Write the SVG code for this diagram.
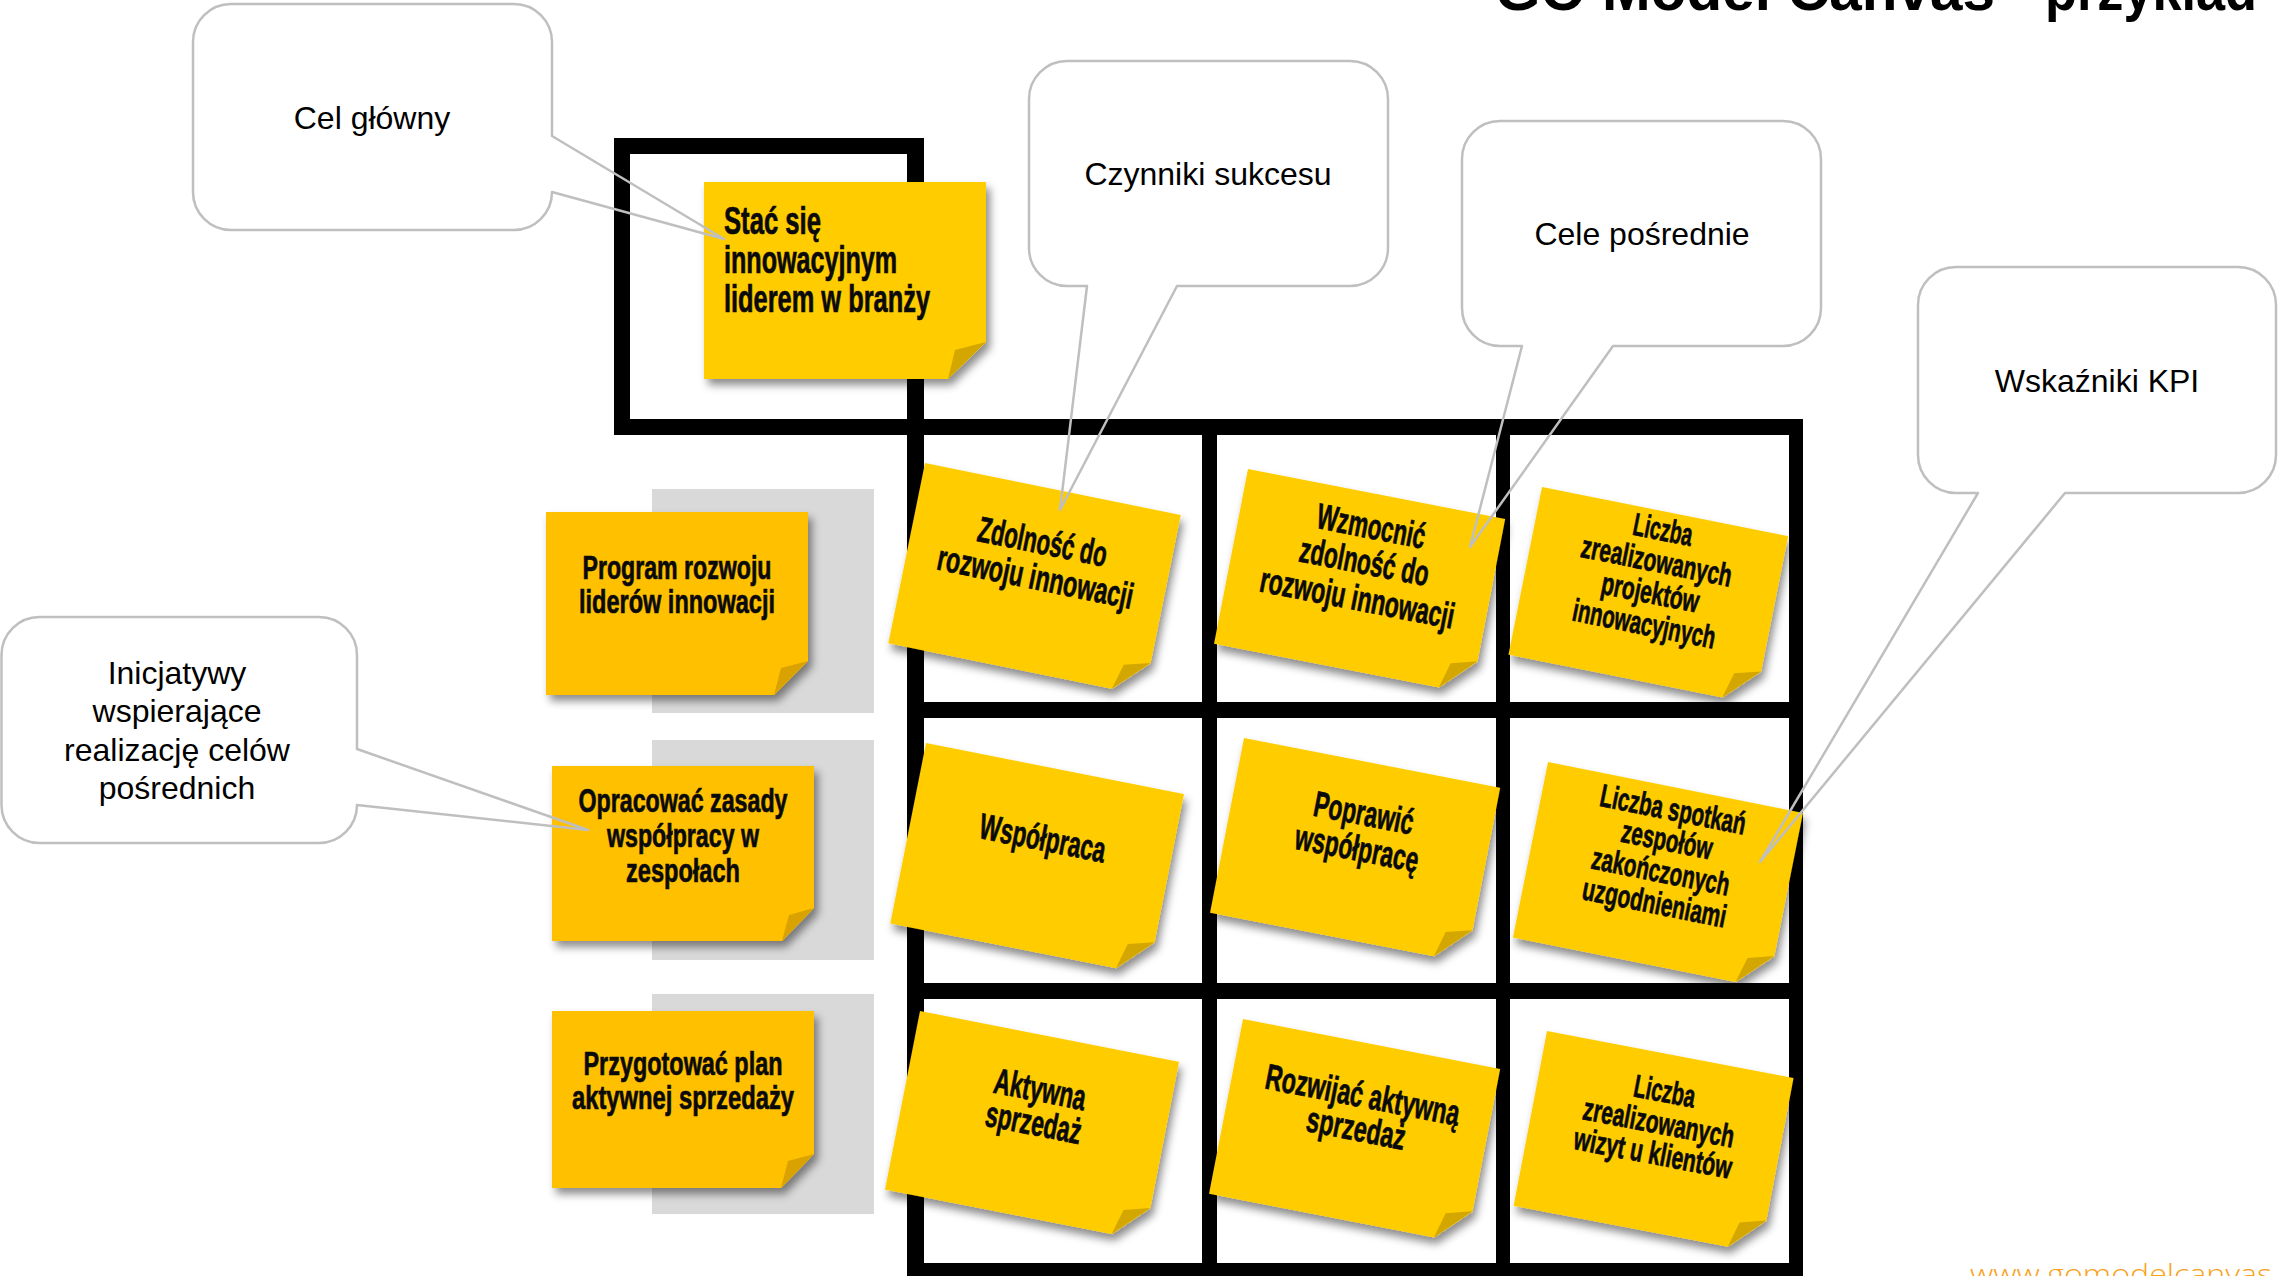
<svg xmlns="http://www.w3.org/2000/svg" width="2279" height="1276" viewBox="0 0 2279 1276">
<defs>
<filter id="sh" x="-10%" y="-10%" width="130%" height="135%">
<feDropShadow dx="4" dy="6" stdDeviation="4" flood-color="#000" flood-opacity="0.45"/>
</filter>
<style>
.grid rect{fill:#000}
.gray{fill:#D9D9D9}
.note{fill:#FFCC00}
.lnote{fill:#FFC000}
.fold{fill:#D4A600}
.lfold{fill:#D9A200}
.nt{font-family:"Liberation Sans",Arial,sans-serif;font-weight:bold;fill:#0a0a0a;stroke:#0a0a0a;stroke-width:0.7;text-anchor:middle}
.s35{font-size:36px}
.s31{font-size:32px}
.s34{font-size:34px}
.bbody{fill:#fff;stroke:none}
.bline{fill:none;stroke:#BFBFBF;stroke-width:2.5;stroke-linejoin:round}
.bt{font-family:"Liberation Sans",Arial,sans-serif;font-size:32px;fill:#000;text-anchor:middle}
</style>
</defs>
<rect width="2279" height="1276" fill="#fff"/>

<g id="title">
<text x="1495" y="10" font-family="'Liberation Sans',Arial,sans-serif" font-weight="bold" font-size="60" textLength="500" lengthAdjust="spacingAndGlyphs">GO Model Canvas</text>
<text x="2012" y="8" font-family="'Liberation Sans',Arial,sans-serif" font-weight="bold" font-size="60">–</text>
<text x="2045" y="10" font-family="'Liberation Sans',Arial,sans-serif" font-weight="bold" font-size="60" textLength="212" lengthAdjust="spacingAndGlyphs">przykład</text>
</g>

<g id="footer">
<text x="1970" y="1284" font-family="'Open Sans','Liberation Sans',sans-serif" font-weight="300" font-size="28" fill="#F9A21B" textLength="302" lengthAdjust="spacingAndGlyphs">www.gomodelcanvas</text>
</g>

<g id="grid" class="grid">
<rect x="614" y="138" width="16" height="297"/>
<rect x="614" y="138" width="310" height="16"/>
<rect x="907" y="138" width="17" height="1138"/>
<rect x="614" y="419" width="1189" height="16"/>
<rect x="1202" y="419" width="15" height="857"/>
<rect x="1496" y="419" width="14" height="857"/>
<rect x="1789" y="419" width="14" height="857"/>
<rect x="907" y="702" width="896" height="16"/>
<rect x="907" y="983" width="896" height="16"/>
<rect x="907" y="1263" width="896" height="16"/>
</g>

<g id="gray-panels">
<rect class="gray" x="652" y="489" width="222" height="224"/>
<rect class="gray" x="652" y="740" width="222" height="220"/>
<rect class="gray" x="652" y="994" width="222" height="220"/>
</g>

<g id="note-main" transform="translate(704,182)">
<path class="note" filter="url(#sh)" d="M0,0H282V160L244,197H0Z"/>
<path class="fold" d="M244,197L251,168L282,160Z"/>
<text class="nt" x="20" y="52" font-size="38" style="text-anchor:start" textLength="97" lengthAdjust="spacingAndGlyphs">Stać się</text>
<text class="nt" x="20" y="91" font-size="38" style="text-anchor:start" textLength="173" lengthAdjust="spacingAndGlyphs">innowacyjnym</text>
<text class="nt" x="20" y="130" font-size="38" style="text-anchor:start" textLength="206" lengthAdjust="spacingAndGlyphs">liderem w branży</text>
</g>

<g id="note-a" transform="translate(546,512)">
<path class="lnote" filter="url(#sh)" d="M0,0H262V149L228,183H0Z"/>
<path class="lfold" d="M228,183L235,156L262,149Z"/>
<text class="nt s34" x="131" y="67" textLength="189" lengthAdjust="spacingAndGlyphs">Program rozwoju</text>
<text class="nt s34" x="131" y="101" textLength="196" lengthAdjust="spacingAndGlyphs">liderów innowacji</text>
</g>

<g id="note-b" transform="translate(552,766)">
<path class="lnote" filter="url(#sh)" d="M0,0H262V142L230,175H0Z"/>
<path class="lfold" d="M230,175L237,149L262,142Z"/>
<text class="nt s34" x="131" y="46" textLength="209" lengthAdjust="spacingAndGlyphs">Opracować zasady</text>
<text class="nt s34" x="131" y="81" textLength="152" lengthAdjust="spacingAndGlyphs">współpracy w</text>
<text class="nt s34" x="131" y="116" textLength="114" lengthAdjust="spacingAndGlyphs">zespołach</text>
</g>

<g id="note-c" transform="translate(552,1011)">
<path class="lnote" filter="url(#sh)" d="M0,0H262V143L229,177H0Z"/>
<path class="lfold" d="M229,177L236,150L262,143Z"/>
<text class="nt s34" x="131" y="64" textLength="199" lengthAdjust="spacingAndGlyphs">Przygotować plan</text>
<text class="nt s34" x="131" y="98" textLength="222" lengthAdjust="spacingAndGlyphs">aktywnej sprzedaży</text>
</g>

<g id="note-1" transform="translate(925,463) rotate(11.5)">
<path class="note" filter="url(#sh)" d="M0,0H261V151L228,184H0Z"/>
<path class="fold" d="M228,184L235,158L261,151Z"/>
<text class="nt s35" x="131" y="66" textLength="131" lengthAdjust="spacingAndGlyphs">Zdolność do</text>
<text class="nt s35" x="131" y="102" textLength="199" lengthAdjust="spacingAndGlyphs">rozwoju innowacji</text>
</g>

<g id="note-2" transform="translate(1248,469) rotate(11)">
<path class="note" filter="url(#sh)" d="M0,0H262V145L229,178H0Z"/>
<path class="fold" d="M229,178L236,152L262,145Z"/>
<text class="nt s35" x="132" y="45" textLength="110" lengthAdjust="spacingAndGlyphs">Wzmocnić</text>
<text class="nt s35" x="132" y="81" textLength="131" lengthAdjust="spacingAndGlyphs">zdolność do</text>
<text class="nt s35" x="132" y="118" textLength="197" lengthAdjust="spacingAndGlyphs">rozwoju innowacji</text>
</g>

<g id="note-3" transform="translate(1542,487) rotate(11.3)">
<path class="note" filter="url(#sh)" d="M0,0H251V138L218,171H0Z"/>
<path class="fold" d="M218,171L225,145L251,138Z"/>
<text class="nt s31" x="127" y="29" textLength="60" lengthAdjust="spacingAndGlyphs">Liczba</text>
<text class="nt s31" x="127" y="61" textLength="153" lengthAdjust="spacingAndGlyphs">zrealizowanych</text>
<text class="nt s31" x="127" y="93" textLength="99" lengthAdjust="spacingAndGlyphs">projektów</text>
<text class="nt s31" x="127" y="125" textLength="145" lengthAdjust="spacingAndGlyphs">innowacyjnych</text>
</g>

<g id="note-4" transform="translate(926,743) rotate(11.2)">
<path class="note" filter="url(#sh)" d="M0,0H263V151L230,184H0Z"/>
<path class="fold" d="M230,184L237,158L263,151Z"/>
<text class="nt s35" x="133" y="83" textLength="128" lengthAdjust="spacingAndGlyphs">Współpraca</text>
</g>

<g id="note-5" transform="translate(1244,738) rotate(11)">
<path class="note" filter="url(#sh)" d="M0,0H261V145L228,178H0Z"/>
<path class="fold" d="M228,178L235,152L261,145Z"/>
<text class="nt s35" x="132" y="63" textLength="101" lengthAdjust="spacingAndGlyphs">Poprawić</text>
<text class="nt s35" x="132" y="99" textLength="125" lengthAdjust="spacingAndGlyphs">współpracę</text>
</g>

<g id="note-6" transform="translate(1548,762) rotate(11.3)">
<path class="note" filter="url(#sh)" d="M0,0H260V146L227,179H0Z"/>
<path class="fold" d="M227,179L234,153L260,146Z"/>
<text class="nt s31" x="132" y="33" textLength="148" lengthAdjust="spacingAndGlyphs">Liczba spotkań</text>
<text class="nt s31" x="132" y="64" textLength="92" lengthAdjust="spacingAndGlyphs">zespołów</text>
<text class="nt s31" x="132" y="96" textLength="140" lengthAdjust="spacingAndGlyphs">zakończonych</text>
<text class="nt s31" x="132" y="128" textLength="146" lengthAdjust="spacingAndGlyphs">uzgodnieniami</text>
</g>

<g id="note-7" transform="translate(920,1011) rotate(11.1)">
<path class="note" filter="url(#sh)" d="M0,0H264V149L231,182H0Z"/>
<path class="fold" d="M231,182L238,156L264,149Z"/>
<text class="nt s35" x="133" y="66" textLength="93" lengthAdjust="spacingAndGlyphs">Aktywna</text>
<text class="nt s35" x="133" y="100" textLength="97" lengthAdjust="spacingAndGlyphs">sprzedaż</text>
</g>

<g id="note-8" transform="translate(1243,1019) rotate(11)">
<path class="note" filter="url(#sh)" d="M0,0H262V145L229,178H0Z"/>
<path class="fold" d="M229,178L236,152L262,145Z"/>
<text class="nt s35" x="132" y="64" textLength="197" lengthAdjust="spacingAndGlyphs">Rozwijać aktywną</text>
<text class="nt s35" x="132" y="98" textLength="100" lengthAdjust="spacingAndGlyphs">sprzedaż</text>
</g>

<g id="note-9" transform="translate(1547,1031) rotate(10.8)">
<path class="note" filter="url(#sh)" d="M0,0H251V145L218,178H0Z"/>
<path class="fold" d="M218,178L225,152L251,145Z"/>
<text class="nt s31" x="127" y="48" textLength="62" lengthAdjust="spacingAndGlyphs">Liczba</text>
<text class="nt s31" x="127" y="80" textLength="153" lengthAdjust="spacingAndGlyphs">zrealizowanych</text>
<text class="nt s31" x="127" y="111" textLength="160" lengthAdjust="spacingAndGlyphs">wizyt u klientów</text>
</g>

<g id="callout-cel-glowny">
<rect class="bbody" x="193" y="4" width="359" height="226" rx="38"/>
<path class="bline" d="M231,4H514A38,38 0 0 1 552,42V136L724,239L552,192A38,38 0 0 1 514,230H231A38,38 0 0 1 193,192V42A38,38 0 0 1 231,4Z"/>
<text class="bt" x="372" y="129">Cel główny</text>
</g>

<g id="callout-czynniki">
<rect class="bbody" x="1029" y="61" width="359" height="225" rx="38"/>
<path class="bline" d="M1067,61H1350A38,38 0 0 1 1388,99V248A38,38 0 0 1 1350,286H1177L1060,510L1087,286H1067A38,38 0 0 1 1029,248V99A38,38 0 0 1 1067,61Z"/>
<text class="bt" x="1208" y="185">Czynniki sukcesu</text>
</g>

<g id="callout-cele-posrednie">
<rect class="bbody" x="1462" y="121" width="359" height="225" rx="38"/>
<path class="bline" d="M1500,121H1783A38,38 0 0 1 1821,159V308A38,38 0 0 1 1783,346H1613L1470,547L1522,346H1500A38,38 0 0 1 1462,308V159A38,38 0 0 1 1500,121Z"/>
<text class="bt" x="1642" y="245">Cele pośrednie</text>
</g>

<g id="callout-kpi">
<rect class="bbody" x="1918" y="267" width="358" height="226" rx="38"/>
<path class="bline" d="M1956,267H2238A38,38 0 0 1 2276,305V455A38,38 0 0 1 2238,493H2065L1760,862L1978,493H1956A38,38 0 0 1 1918,455V305A38,38 0 0 1 1956,267Z"/>
<text class="bt" x="2097" y="392">Wskaźniki KPI</text>
</g>

<g id="callout-inicjatywy">
<rect class="bbody" x="1.5" y="617" width="355.5" height="226" rx="38"/>
<path class="bline" d="M39.5,617H319A38,38 0 0 1 357,655V749L588,830L357,805A38,38 0 0 1 319,843H39.5A38,38 0 0 1 1.5,805V655A38,38 0 0 1 39.5,617Z"/>
<text class="bt" x="177" y="684">Inicjatywy</text>
<text class="bt" x="177" y="722">wspierające</text>
<text class="bt" x="177" y="761">realizację celów</text>
<text class="bt" x="177" y="799">pośrednich</text>
</g>
</svg>
